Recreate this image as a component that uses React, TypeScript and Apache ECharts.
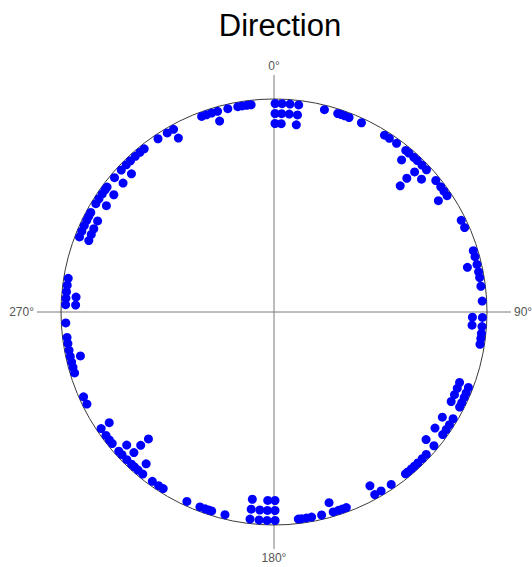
import React, { useEffect, useRef } from "react";
import * as echarts from "echarts";

// Observed directions (degrees, clockwise from north), grouped by stack level:
// level 0 sits against the circle, each further level is one dot further in.
const level0Directions = [
  0.3, 2.2, 4.4, 6.8, 14.0, 17.8, 18.8, 19.8, 21.1, 24.8, 32.0, 33.6, 36.0,
  39.2, 40.3, 42.1, 43.4, 45.2, 47.0, 50.9, 53.1, 54.6, 56.1, 63.9, 66.1,
  72.9, 74.6, 76.8, 78.9, 80.5, 82.9, 87.0, 91.5, 94.0, 95.9, 97.3, 98.9,
  111.2, 112.8, 114.2, 115.8, 117.1, 120.8, 122.7, 124.3, 126.0, 129.9,
  133.1, 134.7, 136.4, 137.7, 138.8, 140.1, 140.9, 145.8, 149.1, 151.1,
  159.7, 160.8, 162.0, 163.5, 166.8, 169.6, 171.0, 172.4, 173.3, 179.7,
  181.9, 184.1, 186.6, 193.6, 197.4, 198.3, 199.3, 200.8, 204.7, 212.1,
  213.6, 215.7, 219.0, 220.7, 222.0, 223.1, 224.9, 226.8, 228.1, 230.9,
  232.2, 233.7, 236.0, 243.8, 246.0, 253.0, 254.6, 256.1, 257.7, 259.4,
  261.3, 263.0, 267.0, 272.0, 273.8, 275.6, 277.4, 279.3, 291.1, 292.8,
  294.5, 296.1, 297.3, 298.5, 301.3, 302.9, 304.5, 305.9, 306.8, 310.1,
  312.9, 314.9, 316.5, 318.3, 320.0, 321.5, 326.2, 329.2, 331.2, 339.7,
  341.1, 342.6, 344.3, 347.2, 350.0, 351.2, 352.5, 353.7,
];
const level1Directions = [
  0.3, 2.2, 4.4, 6.8, 40.0, 45.1, 48.0, 55.9, 77.0, 91.5, 93.8, 110.8, 112.6,
  114.6, 116.8, 122.0, 125.8, 130.0, 151.1, 163.9, 179.7, 181.9, 184.1,
  186.6, 220.1, 224.9, 227.9, 236.1, 257.2, 272.0, 274.3, 291.1, 293.0,
  294.8, 297.3, 302.4, 306.2, 310.5, 314.1, 331.2, 344.1,
];
const level2Directions = [0.3, 2.2, 6.8, 44.8, 179.7, 181.9, 186.6, 225.0];
const level3Directions = [45.0, 224.7];

const directionLevels = [
  level0Directions,
  level1Directions,
  level2Directions,
  level3Directions,
];

const compassTicks = [0, 90, 180, 270];

export default function App() {
  const ref = useRef<HTMLDivElement>(null);

  useEffect(() => {
    if (!ref.current) return;
    const chart = echarts.init(ref.current, null, { renderer: "svg" });

    const circleRadius = 213;
    // radius of the outermost dot row and the spacing between rows, in axis units
    const firstRow = 208.5 / circleRadius;
    const rowStep = 10 / circleRadius;

    const points: [number, number][] = [];
    directionLevels.forEach((dirs, level) => {
      dirs.forEach((d) => points.push([firstRow - level * rowStep, d]));
    });

    const font = "'Liberation Sans', Arial, Helvetica, sans-serif";

    chart.setOption({
      animation: false,
      backgroundColor: "#ffffff",
      title: {
        text: "Direction",
        left: 275,
        top: 5,
        textAlign: "center",
        textStyle: {
          fontFamily: font,
          fontSize: 31,
          fontWeight: "normal",
          color: "#000000",
        },
      },
      polar: {
        center: [274, 312],
        radius: circleRadius,
      },
      angleAxis: {
        type: "value",
        min: 0,
        max: 360,
        interval: 90,
        startAngle: 90,
        clockwise: true,
        axisLine: { show: true, lineStyle: { color: "#3a3a3a", width: 1 } },
        axisTick: {
          show: true,
          inside: false,
          length: 24,
          lineStyle: { color: "#7a7a7a", width: 1 },
        },
        splitLine: { show: true, lineStyle: { color: "#7a7a7a", width: 1 } },
        axisLabel: {
          show: true,
          margin: 27,
          color: "#555555",
          fontFamily: font,
          fontSize: 12,
          formatter: (v: number) =>
            compassTicks.includes(v) ? `${v}°` : "",
        },
      },
      radiusAxis: {
        type: "value",
        min: 0,
        max: 1,
        show: false,
        axisLine: { show: false },
        axisTick: { show: false },
        axisLabel: { show: false },
        splitLine: { show: false },
      },
      series: [
        {
          type: "scatter",
          coordinateSystem: "polar",
          symbol: "circle",
          symbolSize: 9,
          itemStyle: { color: "#0000ff", opacity: 1 },
          z: 5,
          data: points,
        },
      ],
    });

    return () => chart.dispose();
  }, []);

  return (
    <div
      ref={ref}
      style={{
        position: "absolute",
        left: 0,
        top: 0,
        width: 532,
        height: 567,
        background: "#ffffff",
      }}
    />
  );
}
